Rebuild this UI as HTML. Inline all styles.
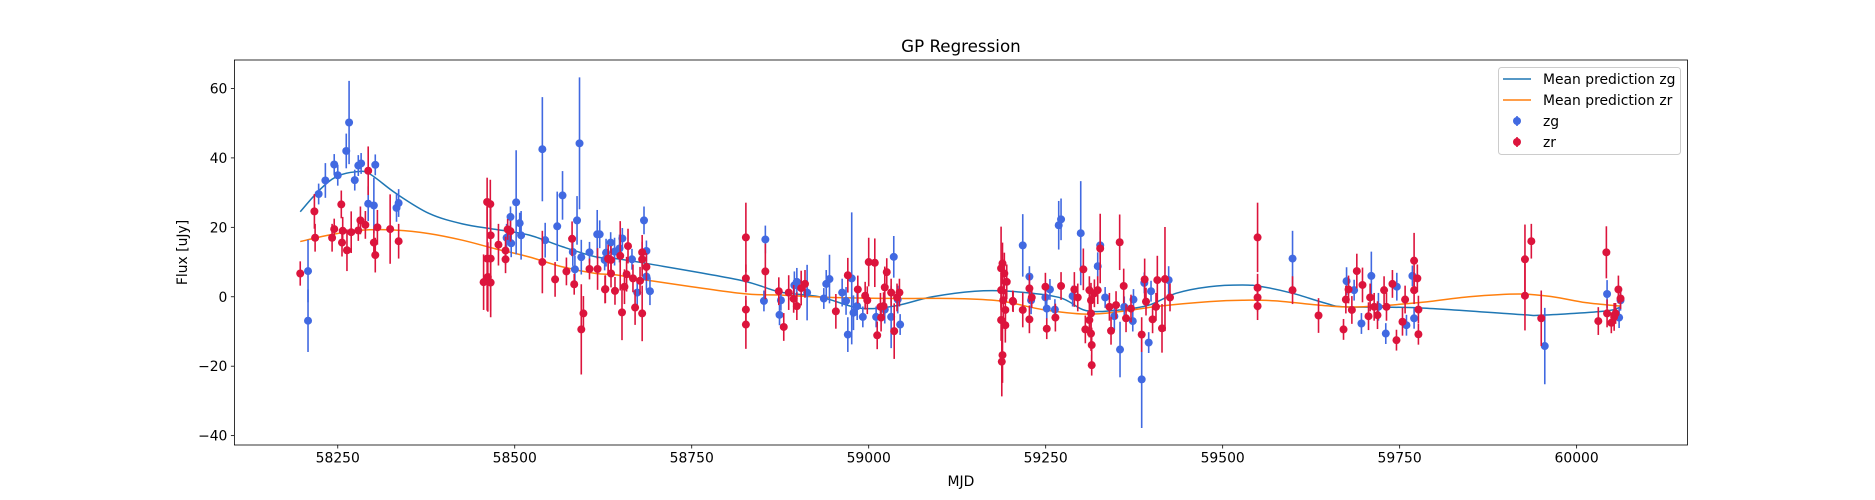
<!DOCTYPE html>
<html><head><meta charset="utf-8"><title>GP Regression</title>
<style>html,body{margin:0;padding:0;background:#fff}svg{display:block}text{font-family:"DejaVu Sans","Liberation Sans",sans-serif}</style>
</head><body>
<svg id="chart" width="1875" height="500" xmlns="http://www.w3.org/2000/svg"></svg>
<script>
const xTicks=[58250,58500,58750,59000,59250,59500,59750,60000];
const yTicks=[-40,-20,0,20,40,60];
const zgMjd=[58208,58208,58223,58232.5,58245,58250,58262,58266,58274,58279,58283,58293,58301,58303,58333,58336,58488.5,58494,58502,58507,58509,58495,58539,58543,58560,58567.5,58582,58585,58588,58591.5,58594,58605.6,58616.5,58620,58629,58635.5,58627,58641,58648,58652,58665.6,58673,58682.6,58686,58686,58691,58852,58854,58874,58876,58895,58898.5,58913,58936.6,58940,58944.6,58962.5,58968,58970.5,58976,58978.5,58983.7,58991.7,59010.5,59022.7,59031.7,59035.4,59041,59044.4,59217.6,59227,59229.4,59249.6,59251.5,59256,59263,59268.4,59271.7,59288,59299.5,59323.5,59327,59334,59347,59355,59361,59374,59373,59385.6,59389.3,59395.5,59398.8,59423.7,59598.7,59675,59685.7,59696,59710,59720,59730.4,59746,59759.6,59768,59770.4,59955,60043,60060,60062];
const zgFlux=[7.4,-6.9,29.6,33.5,38.1,35,42,50.2,33.6,37.8,38.4,26.8,26.3,38,25.6,27,17,23,27.2,21.2,17.7,15.4,42.5,16.3,20.3,29.2,12.9,7.9,22,44.2,11.4,12.8,18,18,12.7,15.6,10.6,13,13.9,16.8,10.8,1.2,22,13.2,5.8,1.6,-1.2,16.5,-5.2,-1,3.3,4.3,1.2,-0.5,3.7,5.1,1.2,-1.2,-10.9,5.3,-4.6,-2.7,-5.8,-5.8,-3.7,-5.8,11.5,-0.8,-8,14.8,5.8,-1,-0.2,-3.4,2.1,-3.7,20.6,22.3,0.2,18.3,8.8,14.8,-0.2,-5.6,-15.2,-2.9,-0.8,-7,-23.8,4,-13.2,1.6,4.8,11,4.5,1.9,-7.7,6,-2.9,-10.6,2.9,-8.2,6,-6.2,-14.2,0.8,-6,-1];
const zgErr=[9,9,3,5,3,3,5,12,3,3,3,5,8,3,4,4,4,3,15,3,7,4,15,5,10,7,4,4,7,19,5,3,7,4,4,3,3,4,4,3,3,4,4,3,4,4,3,4,3,3,4,4,8,3,4,7,4,4,5,19,5,4,3,3,4,9,6,4,3,9,3,4,4,3,3,3,7,6,3,15,4,4,3,4,8,3,3,3,14,3,3,3,4,8,4,3,3,7,4,3,4,3,3,3,11,4,3,3];
const zrMjd=[58197,58217,58218,58242,58245,58255,58256,58257,58263,58269,58279,58282,58289,58293,58301,58303,58306,58324,58336,58456,58461,58465.5,58461,58466,58462,58466,58466,58477,58487,58487,58490,58494,58539,58557,58573,58581,58584,58594,58597,58605.6,58617,58628,58632,58636,58627.5,58632,58636,58641.6,58649,58651.5,58655,58658,58660,58667,58670,58677,58680,58680,58680,58686,58826.5,58826.5,58826.5,58826.5,58854,58873,58880,58887,58894,58898.5,58904.6,58910,58953.6,58970.5,58984.6,58995,58998,59000,59008.6,59012,59016.6,59017.5,59021,59022.7,59025.5,59031.7,59036,59040,59043.4,59187,59189,59191.6,59187,59190,59193,59187,59193,59189,59188,59195,59204,59203.5,59217.6,59227,59230.3,59227,59249.6,59251.5,59263.7,59271.7,59290.5,59295.3,59303.2,59306,59311.7,59314,59314,59314,59315,59315,59311.7,59318.8,59323.5,59327,59340,59342.3,59349.4,59354.5,59360.2,59363.5,59370.5,59385.6,59389.8,59391.7,59401,59405.8,59407.7,59414.3,59418.5,59425.6,59549.3,59549.3,59549.3,59549.3,59598.7,59635.4,59670.7,59674,59677.8,59682.5,59689.5,59697.5,59706,59708.3,59714,59718.7,59728,59731.4,59739.8,59745.5,59754,59757.7,59770.4,59775,59776.5,59776.5,59770.4,59927,59936,59927,59950,60042,60030.6,60043,60049,60055,60059,60062,60053];
const zrFlux=[6.7,24.6,17,17,19.5,26.6,15.6,19,13.4,18.6,19.1,22,20.7,36.3,15.6,12,20,19.5,16,4.2,27.3,26.7,11,11,5.7,4.1,17.7,15,13.3,10.8,19.4,18.9,10,5,7.3,16.7,3.6,-9.4,-4.8,8,8,2.2,11,10.6,2.1,10.9,6.7,1.7,11.8,-4.5,2.9,6.5,14.6,5.3,-3.1,4.6,12.8,10.8,-4.8,8.6,17.1,5.3,-3.7,-8,7.3,1.6,-8.7,1.2,-0.6,-2.7,2.5,3.7,-4.2,6.2,2.1,0.3,-1,10,9.8,-11.1,-2.9,-6,-2.7,2.7,7.1,1.2,-9.9,-0.2,1.2,8.2,9.6,6.7,1.9,-1,-3.8,-6.7,-8.2,-16.8,-18.7,4.3,-1.4,-1.2,-3.8,2.4,-0.2,-6.5,2.9,-9.2,-6,3.1,2.1,-0.2,7.9,-9.4,1.9,-1,-4.8,-10.6,-13.9,-19.7,-6.7,1,1.9,13.9,-2.9,-9.8,-2.4,15.7,3.1,-6.2,-3.4,-10.9,5,-1.4,-6.5,-2.9,4.8,-9.1,5.1,-0.2,17.1,2.6,-0.2,-2.7,1.9,-5.4,-9.4,-0.8,2.1,-3.8,7.4,3.4,-5.6,-0.2,-2.9,-5.3,1.9,-2.9,3.7,-12.5,-7.2,-0.8,10.4,5.3,-10.8,-3.7,1.9,10.8,16,0.3,-6.2,12.8,-7,-4.8,-7.5,-4.8,2.1,-0.5,-5.8];
const zrErr=[3.5,5,4,4,3,4,4,4,6,6,3,4,4,7,4,5,5,10,5,8,7,7,15,15,10,10,4,6,4,4,3,3,9,5,4,5,3,13,5,3,6,4,4,4,4,4,4,4,10,8,5,5,5,4,5,4,5,5,8,4,10,4,4,7,8,4,4,5,4,4,5,4,5,5,4,4,4,7,7,4,4,4,4,6,4,4,8,4,4,12,6,6,5,6,6,6,5,8,10,5,3,3,5,4,3,4,4,3,4,4,5,4,6,4,4,5,5,5,5,3,5,4,4,10,4,4,4,8,5,4,4,5,6,4,4,4,7,7,15,4,10,4,4,4,4,5,3,4,4,4,5,5,4,4,4,4,4,4,4,3,4,4,8,4,3,4,4,10,5,10,8,7.5,4,4,3,3,4,3,4];
const gpZgMjd=[58197,58224,58248,58276,58295,58332,58379,58426,58473,58520,58567.5,58614.6,58643,58686,58818,58874,58930,58978,59006,59043,59090,59150,59199,59269,59307,59354,59396,59434,59481,59528,59556,59599,59646,59674,59777,59919,59952,60041,60062];
const gpZgFlux=[24.5,30.7,34.6,36,35.4,29.8,24,21,19.4,17.8,14.4,11.5,11,9.6,4.8,1.4,0,-2.9,-3.4,-2.4,0,1.6,1.6,-0.2,-4,-3.8,-2.4,1,2.9,3.4,2.9,1,-1.9,-2.9,-3.2,-5.1,-5.3,-4.1,-2.9];
const gpZrMjd=[58197,58238,58285,58332,58379,58426,58473,58520,58567.5,58614.6,58643,58686,58818,58874,58949,59043,59119,59185,59246,59307,59354,59411,59481,59528,59575,59646,59693,59777,59848,59919,59966,60013,60062];
const gpZrFlux=[15.9,17.8,19.2,19.2,18.2,16.3,13.8,11.5,8.6,6.7,6.3,4.8,1,0.5,-0.2,-0.5,-0.5,-1.2,-3.7,-5,-4.3,-2.7,-1.4,-1,-1.2,-2.6,-2.9,-1.7,0,0.8,0,-1.7,-2.7];

const svg=document.getElementById('chart');
const NS='http://www.w3.org/2000/svg';
const L=234.4,R=1687.5,T=60,B=445;
const XMIN=58104,XMAX=60156.6,YMIN=-42.7,YMAX=68.2;
function sx(m){return L+(m-XMIN)/(XMAX-XMIN)*(R-L);}
function sy(f){return B-(f-YMIN)/(YMAX-YMIN)*(B-T);}
function mk(tag,attrs,parent){const e=document.createElementNS(NS,tag);for(const k in attrs)e.setAttribute(k,attrs[k]);(parent||svg).appendChild(e);return e;}

const bg=mk('rect',{x:0,y:0,width:1875,height:500,fill:'#fff'});



function smoothPath(xs,ys){
  const p=xs.map((m,i)=>[sx(m),sy(ys[i])]);
  let d='M'+p[0][0].toFixed(2)+','+p[0][1].toFixed(2);
  for(let i=0;i<p.length-1;i++){
    const p0=p[Math.max(0,i-1)],p1=p[i],p2=p[i+1],p3=p[Math.min(p.length-1,i+2)];
    const c1x=p1[0]+(p2[0]-p0[0])/6,c1y=p1[1]+(p2[1]-p0[1])/6;
    const c2x=p2[0]-(p3[0]-p1[0])/6,c2y=p2[1]-(p3[1]-p1[1])/6;
    d+=' C'+c1x.toFixed(2)+','+c1y.toFixed(2)+' '+c2x.toFixed(2)+','+c2y.toFixed(2)+' '+p2[0].toFixed(2)+','+p2[1].toFixed(2);
  }
  return d;
}
const clip=mk('clipPath',{id:'plotclip'});
mk('rect',{x:L,y:T,width:R-L,height:B-T},clip);

const lineZg=mk('path',{d:smoothPath(gpZgMjd,gpZgFlux),fill:'none',stroke:'#1f77b4','stroke-width':1.5,'clip-path':'url(#plotclip)'});


const lineZr=mk('path',{d:smoothPath(gpZrMjd,gpZrFlux),fill:'none',stroke:'#ff7f0e','stroke-width':1.5,'clip-path':'url(#plotclip)'});



function drawSeries(ms,fs,es,color,name){
  const g=mk('g',{'clip-path':'url(#plotclip)'});
  
  
  for(let i=0;i<ms.length;i++){
    const x=sx(ms[i]);
    const eb=mk('line',{x1:x,x2:x,y1:sy(fs[i]-es[i]),y2:sy(fs[i]+es[i]),stroke:color,'stroke-width':1.6},g);
    
    
  }
  for(let i=0;i<ms.length;i++){
    const c=mk('circle',{cx:sx(ms[i]),cy:sy(fs[i]),r:4,fill:color},g);
    
    
  }
}
drawSeries(zgMjd,zgFlux,zgErr,'#4169e1','zg');
drawSeries(zrMjd,zrFlux,zrErr,'#dc143c','zr');

const frame=mk('rect',{x:L,y:T,width:R-L,height:B-T,fill:'none',stroke:'#000','stroke-width':0.8});



xTicks.forEach(v=>{
  const x=sx(v);
  const t=mk('line',{x1:x,x2:x,y1:B,y2:B+3.5,stroke:'#000','stroke-width':0.8});
  
  
  const lb=mk('text',{x:x,y:B+17.5,'font-size':13.9,'text-anchor':'middle',fill:'#000'});
  lb.textContent=String(v);
  
  
});
yTicks.forEach(v=>{
  const y=sy(v);
  const t=mk('line',{x1:L-3.5,x2:L,y1:y,y2:y,stroke:'#000','stroke-width':0.8});
  
  
  const lb=mk('text',{x:L-7,y:y+5,'font-size':13.9,'text-anchor':'end',fill:'#000'});
  lb.textContent=(v<0?'\u2212'+Math.abs(v):String(v));
  
  
});

const title=mk('text',{x:(L+R)/2,y:52,'font-size':16.7,'text-anchor':'middle',fill:'#000'});
title.textContent='GP Regression';


const xl=mk('text',{x:(L+R)/2,y:486,'font-size':13.9,'text-anchor':'middle',fill:'#000'});
xl.textContent='MJD';


const yl=mk('text',{x:0,y:0,'font-size':13.9,'text-anchor':'middle',fill:'#000',transform:'translate(187,'+((T+B)/2)+') rotate(-90)'});
yl.textContent='Flux [uJy]';



const lg=mk('g',{});


const lbox=mk('rect',{x:1498.5,y:67.5,width:182,height:87,rx:3,fill:'#fff','fill-opacity':0.8,stroke:'#ccc','stroke-width':1},lg);


const entries=[['line','#1f77b4','Mean prediction zg'],['line','#ff7f0e','Mean prediction zr'],['dot','#4169e1','zg'],['dot','#dc143c','zr']];
entries.forEach((e,i)=>{
  const y=79+i*21;
  const eg=mk('g',{},lg);
  
  
  if(e[0]==='line'){
    mk('line',{x1:1503,x2:1531,y1:y,y2:y,stroke:e[1],'stroke-width':1.5},eg);
  }else{
    mk('line',{x1:1517,x2:1517,y1:y-5,y2:y+5,stroke:e[1],'stroke-width':1.6},eg);
    mk('circle',{cx:1517,cy:y,r:4,fill:e[1]},eg);
  }
  const t=mk('text',{x:1543,y:y+5,'font-size':13.9,fill:'#000'},eg);
  t.textContent=e[2];
});
</script>
</body></html>
